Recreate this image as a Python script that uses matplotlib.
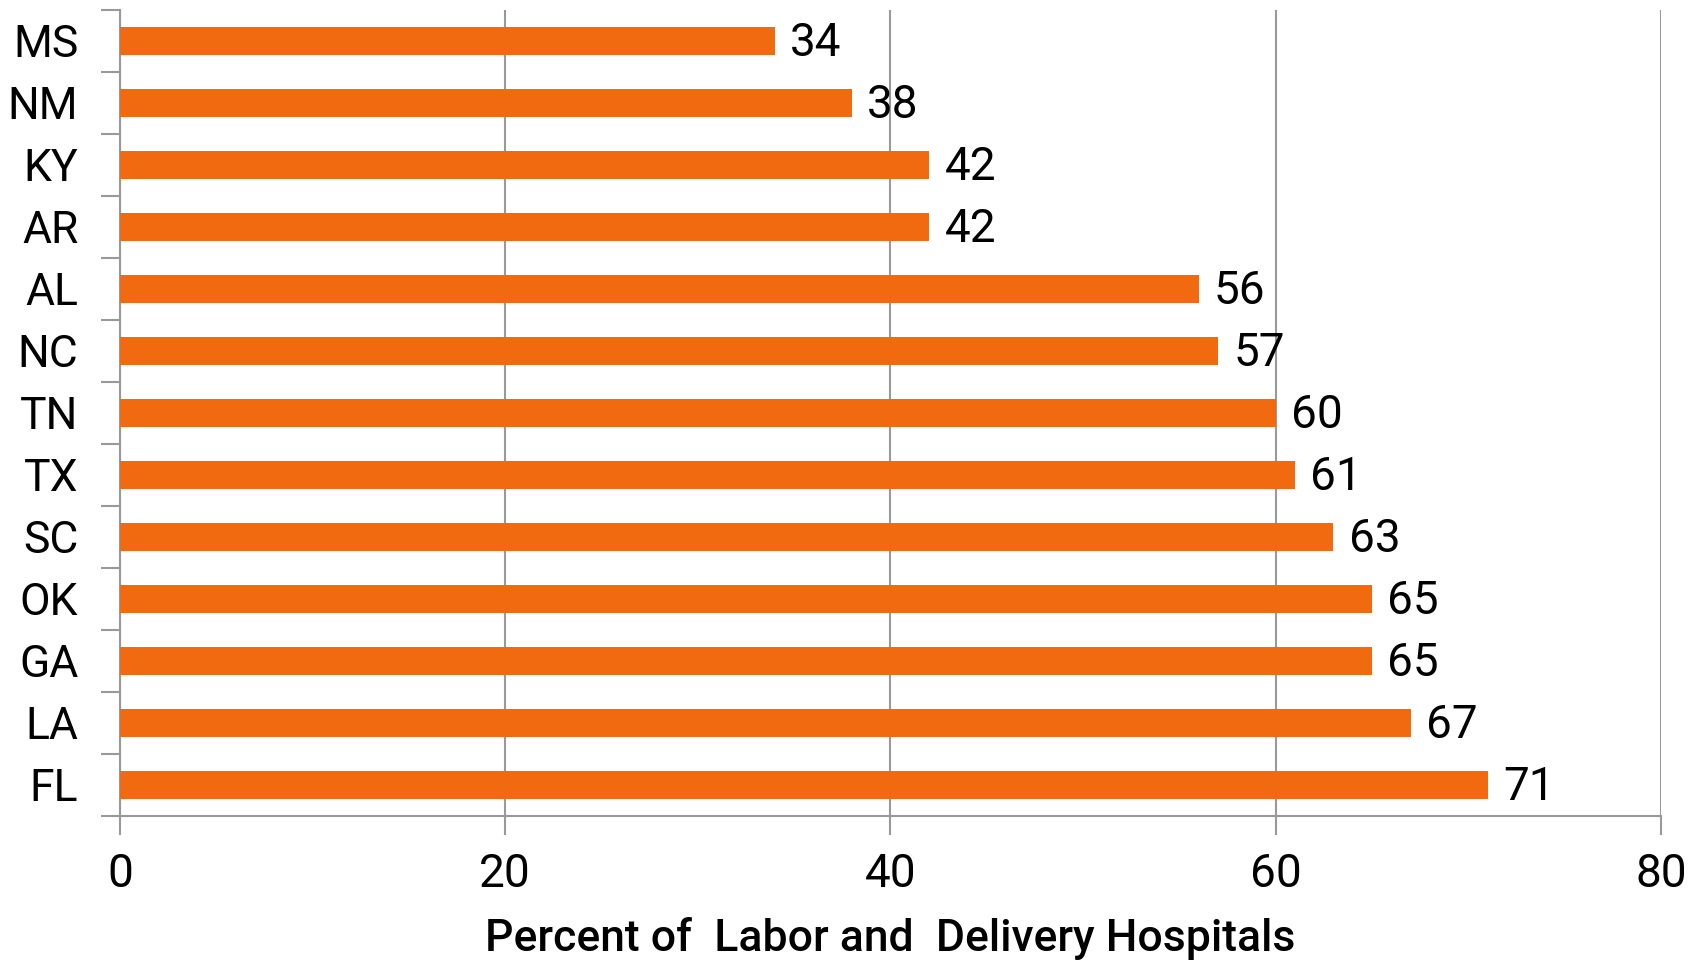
import numpy as np
import matplotlib.pyplot as plt

# Datos: porcentaje de hospitales por estado (de arriba hacia abajo)
estados = ['MS', 'NM', 'KY', 'AR', 'AL', 'NC', 'TN', 'TX', 'SC', 'OK', 'GA', 'LA', 'FL']
porcentajes = [34, 38, 42, 42, 56, 57, 60, 61, 63, 65, 65, 67, 71]
xticks = [0, 20, 40, 60, 80]

plt.rcParams['font.family'] = ['Roboto', 'DejaVu Sans']

fig = plt.figure(figsize=(16.94, 9.61), dpi=100)
ax = fig.add_axes([0.0708, 0.151, 0.9097, 0.8386])

y = np.arange(len(estados))[::-1]
ax.barh(y, porcentajes, height=0.44, color='#F26A10', zorder=3)

for yi, v in zip(y, porcentajes):
    ax.text(v + 0.8, yi - 0.04, str(v), va='center', ha='left', fontsize=33, color='black')

ax.set_xlim(0, 80)
ax.set_ylim(-0.5, len(estados) - 0.5)
ax.set_xticks(xticks)
ax.set_xticklabels([str(t) for t in xticks], fontsize=33)
ax.set_yticks(y)
ax.set_yticklabels(estados, fontsize=32)
ax.set_yticks(np.arange(-0.5, len(estados)), minor=True)

ax.tick_params(axis='y', which='major', length=0, pad=30)
ax.tick_params(axis='y', which='minor', length=14, color='#999999', width=1.5)
ax.tick_params(axis='x', which='major', length=14, color='#999999', width=1.5, pad=12)

ax.grid(axis='x', color='#999999', linewidth=1.5, zorder=0)
for s in ['top', 'right']:
    ax.spines[s].set_visible(False)
for s in ['left', 'bottom']:
    ax.spines[s].set_color('#999999')
    ax.spines[s].set_linewidth(1.5)

ax.set_xlabel('Percent of  Labor and  Delivery Hospitals', fontsize=32,
              fontweight='medium', labelpad=15)

fig.savefig('out.png', dpi=100)
